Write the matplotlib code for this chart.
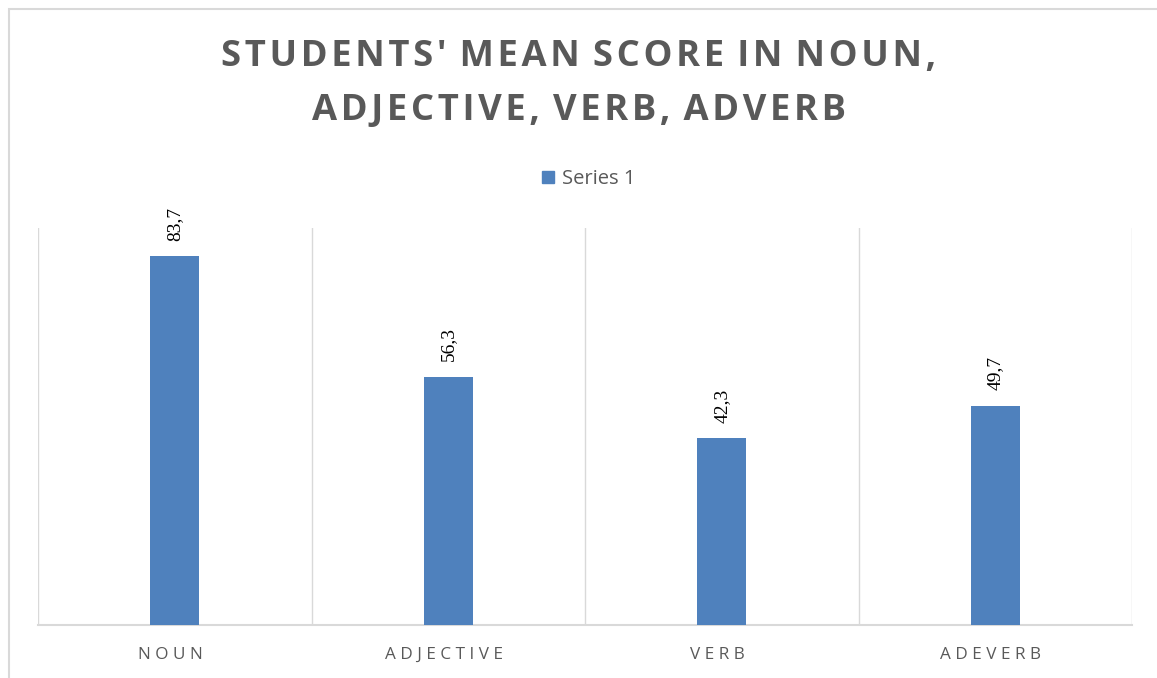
import matplotlib
matplotlib.use("Agg")
import matplotlib.pyplot as plt
from matplotlib.patches import Rectangle, Patch
from matplotlib.font_manager import FontProperties

categories = ["NOUN", "ADJECTIVE", "VERB", "ADEVERB"]
values = [83.7, 56.3, 42.3, 49.7]
value_labels = ["83,7", "56,3", "42,3", "49,7"]
series_name = "Series 1"
title_lines = ["STUDENTS' MEAN SCORE IN NOUN,", "ADJECTIVE, VERB, ADVERB"]

BLUE = "#4F81BD"
GRID = "#D9D9D9"
TXT = "#595959"

W, H = 1157, 678
fig = plt.figure(figsize=(W / 100, H / 100), dpi=100)
fig.patch.set_facecolor("white")

# outer chart border (extends past right/bottom edges)
fig.patches.append(Rectangle((9 / W, -0.05), 1.1, (H - 9) / H + 0.05,
                             transform=fig.transFigure, fill=False,
                             edgecolor=GRID, linewidth=1.5, zorder=0))

ax = fig.add_axes([38 / W, 1 - 625 / H, (1132 - 38) / W, (625 - 228) / H])
x = list(range(len(categories)))
ax.bar(x, values, width=0.18, color=BLUE, zorder=3)
ax.set_xlim(-0.5, len(categories) - 0.5)
ax.set_ylim(0, 90)

for s in ["top", "left", "right"]:
    ax.spines[s].set_visible(False)
ax.spines["bottom"].set_color(GRID)
ax.spines["bottom"].set_linewidth(1.5)
for b in [i - 0.5 for i in range(len(categories) + 1)]:
    ax.axvline(b, color=GRID, linewidth=1.0, zorder=1)

ax.set_yticks([])
ax.set_xticks(x)
spaced = [" ".join(c) + "  " for c in categories]
ax.set_xticklabels(spaced, fontsize=12.3, color=TXT, family=["Open Sans", "DejaVu Sans"])
ax.tick_params(axis="x", length=0, pad=16)

serif_fp = FontProperties(family=["Liberation Serif", "DejaVu Serif"], size=14)
for xi, v, lab in zip(x, values, value_labels):
    ax.annotate(lab, (xi, v), xytext=(0, 11), textcoords="offset points",
                rotation=90, ha="center", va="bottom",
                fontproperties=serif_fp, color="black")

hs = "\u200a"
for i, line in enumerate(title_lines):
    t = hs.join(line).replace(hs + " " + hs, " " + hs)
    fig.text(0.5, 1 - (57 + 54 * i) / H, t, ha="center", va="center",
             fontsize=26.2, fontweight="bold", color=TXT,
             family=["Open Sans", "DejaVu Sans"])

leg = ax.legend(handles=[Patch(color=BLUE, label=series_name)],
                loc="center", bbox_to_anchor=((589 - 38) / 1094, (625 - 179) / 397),
                bbox_transform=ax.transAxes, frameon=False,
                handlelength=0.6, handleheight=0.6, handletextpad=0.4,
                prop={"family": "Open Sans", "size": 14.5})
for t in leg.get_texts():
    t.set_color(TXT)

fig.savefig("out.png", dpi=100, facecolor="white")
